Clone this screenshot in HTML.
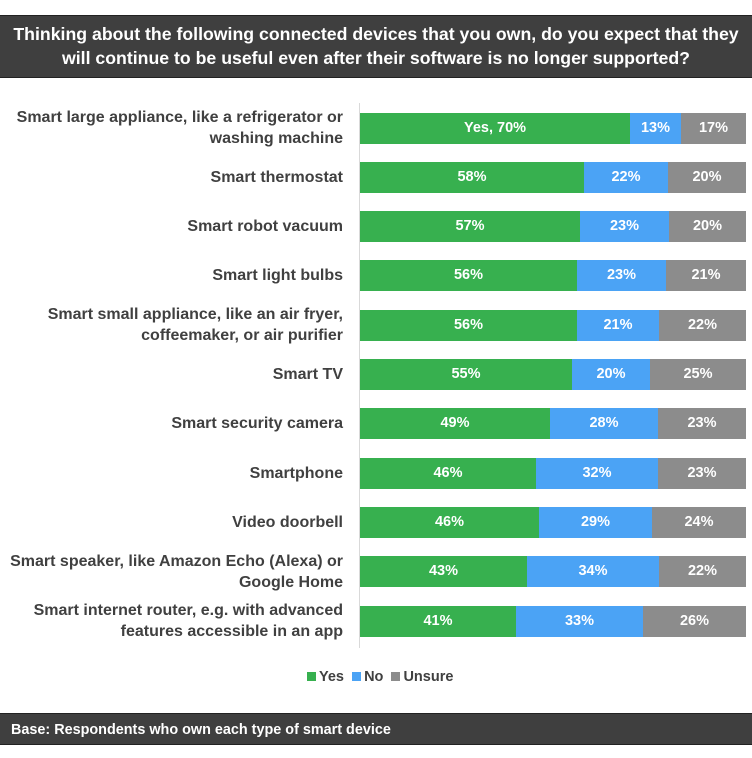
<!DOCTYPE html><html><head><style>
body{margin:0;width:752px;height:758px;background:#fff;font-family:"Liberation Sans",sans-serif;position:relative;overflow:hidden}
.hd{position:absolute;left:0;top:15px;width:752px;height:63px;background:#3f3f3f;border-top:1px solid #222;border-bottom:1px solid #222;color:#fff;font-weight:bold;font-size:17.7px;text-align:center;line-height:24px;padding-top:6px;box-sizing:border-box;white-space:nowrap}
.lab{position:absolute;right:409px;width:360px;text-align:right;color:#404040;font-weight:bold;font-size:16px;line-height:21px;white-space:nowrap}
.bar{position:absolute;height:31px;color:#fff;font-weight:bold;font-size:14.5px;line-height:31px;text-align:center}
.g{background:#37b04f}.b{background:#4ba3f5}.u{background:#8c8c8c}
.ax{position:absolute;left:359px;top:103px;width:1px;height:545px;background:#d9d9d9}
.lg{position:absolute;top:669px;font-size:14.5px;font-weight:bold;color:#404040}
.sq{display:inline-block;width:9px;height:9px;margin-right:3px}
.ft{position:absolute;left:0;top:713px;width:752px;height:32px;background:#3f3f3f;border-top:1px solid #222;border-bottom:1px solid #222;color:#fff;font-weight:bold;font-size:14.4px;line-height:32px;padding-left:11px;box-sizing:border-box}
</style></head><body>
<div class="hd">Thinking about the following connected devices that you own, do you expect that they<br>will continue to be useful even after their software is no longer supported?</div>
<div class="ax"></div>
<div id="c"></div>
<div class="lg" style="left:307px"><span class="sq g"></span>Yes&nbsp;&nbsp;<span class="sq b"></span>No&nbsp;&nbsp;<span class="sq u"></span>Unsure</div>
<div class="ft">Base: Respondents who own each type of smart device</div>
<script>
var d=[["Smart large appliance, like a refrigerator or<br>washing machine",630,681,"Yes, 70%","13%","17%"],
["Smart thermostat",584,668,"58%","22%","20%"],
["Smart robot vacuum",580,669,"57%","23%","20%"],
["Smart light bulbs",577,666,"56%","23%","21%"],
["Smart small appliance, like an air fryer,<br>coffeemaker, or air purifier",577,659,"56%","21%","22%"],
["Smart TV",572,650,"55%","20%","25%"],
["Smart security camera",550,658,"49%","28%","23%"],
["Smartphone",536,658,"46%","32%","23%"],
["Video doorbell",539,652,"46%","29%","24%"],
["Smart speaker, like Amazon Echo (Alexa) or<br>Google Home",527,659,"43%","34%","22%"],
["Smart internet router, e.g. with advanced<br>features accessible in an app",516,643,"41%","33%","26%"]];
var h="";
d.forEach(function(r,i){var c=128+i*49.3,t=c-15.5;var two=r[0].indexOf("<br>")>0;
h+='<div class="lab" style="top:'+(c-(two?21:10.5))+'px">'+r[0]+'</div>';
h+='<div class="bar g" style="left:360px;top:'+t+'px;width:'+(r[1]-360)+'px">'+r[3]+'</div>';
h+='<div class="bar b" style="left:'+r[1]+'px;top:'+t+'px;width:'+(r[2]-r[1])+'px">'+r[4]+'</div>';
h+='<div class="bar u" style="left:'+r[2]+'px;top:'+t+'px;width:'+(746-r[2])+'px">'+r[5]+'</div>';});
document.getElementById("c").innerHTML=h;
</script>
</body></html>
